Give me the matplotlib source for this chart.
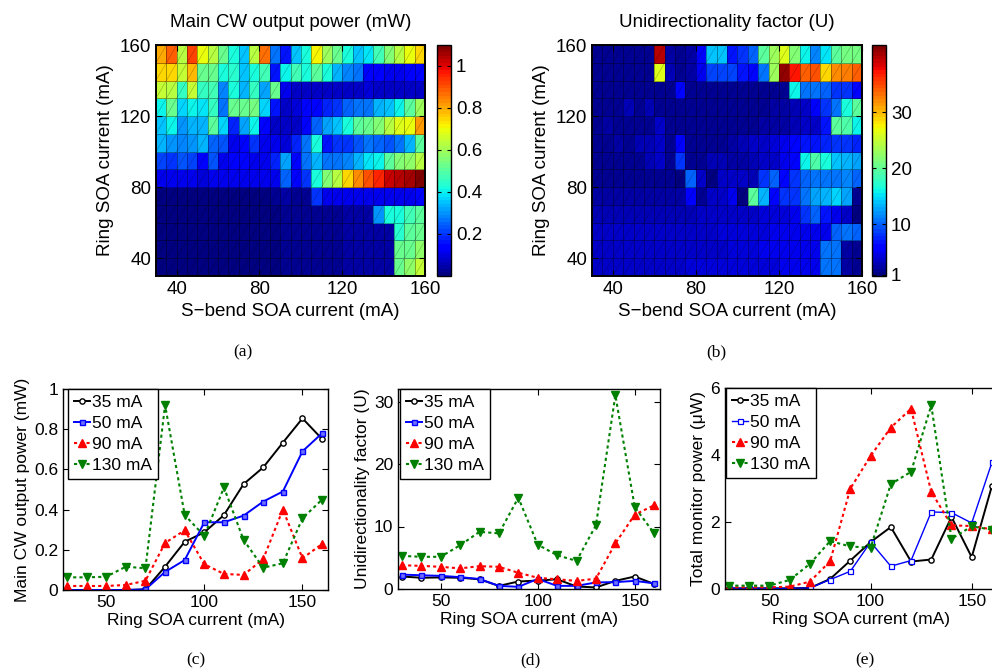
"""
Heatmaps of CW output power / unidirectionality and line cuts vs ring SOA current
"""
import matplotlib

matplotlib.use("Agg")
import matplotlib.pyplot as plt
import numpy as np
from matplotlib.collections import LineCollection
from matplotlib.ticker import FuncFormatter

plt.rcParams["font.family"] = ["Liberation Sans", "DejaVu Sans"]

# ---- heatmap data: rows from ring 150 mA (top) down to 30 mA, columns S-bend 30..155 mA
power_rows = [
    [0.80, 0.88, 0.63, 0.92, 0.70, 0.63, 0.52, 0.42, 0.36, 0.62, 0.86, 0.27, 0.17, 0.36, 0.42, 0.72, 0.60, 0.52, 0.42, 0.36, 0.38, 0.47, 0.55, 0.62, 0.69, 0.75],
    [0.75, 0.74, 0.65, 0.78, 0.53, 0.53, 0.42, 0.43, 0.35, 0.42, 0.48, 0.17, 0.40, 0.47, 0.42, 0.50, 0.42, 0.33, 0.28, 0.26, 0.13, 0.13, 0.12, 0.12, 0.13, 0.14],
    [0.64, 0.62, 0.45, 0.65, 0.46, 0.47, 0.28, 0.42, 0.34, 0.45, 0.32, 0.52, 0.12, 0.08, 0.07, 0.07, 0.07, 0.07, 0.07, 0.08, 0.10, 0.07, 0.07, 0.07, 0.07, 0.07],
    [0.40, 0.52, 0.37, 0.40, 0.38, 0.46, 0.27, 0.52, 0.52, 0.54, 0.37, 0.16, 0.08, 0.09, 0.14, 0.14, 0.18, 0.20, 0.25, 0.27, 0.26, 0.33, 0.36, 0.40, 0.50, 0.60],
    [0.36, 0.40, 0.30, 0.33, 0.33, 0.50, 0.37, 0.18, 0.32, 0.40, 0.14, 0.08, 0.07, 0.07, 0.13, 0.25, 0.31, 0.36, 0.42, 0.50, 0.53, 0.55, 0.62, 0.68, 0.70, 0.82],
    [0.33, 0.30, 0.28, 0.30, 0.33, 0.25, 0.24, 0.12, 0.15, 0.20, 0.12, 0.11, 0.10, 0.18, 0.27, 0.42, 0.16, 0.20, 0.20, 0.24, 0.26, 0.25, 0.23, 0.26, 0.33, 0.50],
    [0.22, 0.20, 0.23, 0.21, 0.13, 0.23, 0.12, 0.13, 0.14, 0.12, 0.11, 0.18, 0.32, 0.14, 0.27, 0.34, 0.26, 0.27, 0.28, 0.34, 0.38, 0.40, 0.50, 0.55, 0.58, 0.62],
    [0.12, 0.12, 0.12, 0.12, 0.10, 0.11, 0.11, 0.11, 0.11, 0.11, 0.11, 0.11, 0.25, 0.13, 0.20, 0.42, 0.55, 0.63, 0.74, 0.84, 0.91, 0.96, 1.02, 1.04, 1.06, 1.09],
    [0.01, 0.01, 0.01, 0.01, 0.01, 0.01, 0.01, 0.01, 0.01, 0.01, 0.01, 0.02, 0.04, 0.03, 0.03, 0.20, 0.12, 0.12, 0.12, 0.12, 0.12, 0.12, 0.12, 0.12, 0.12, 0.15],
    [0.01, 0.01, 0.01, 0.01, 0.01, 0.01, 0.01, 0.01, 0.01, 0.01, 0.01, 0.01, 0.02, 0.02, 0.02, 0.03, 0.03, 0.03, 0.04, 0.04, 0.05, 0.30, 0.42, 0.42, 0.47, 0.50],
    [0.01, 0.01, 0.01, 0.01, 0.01, 0.01, 0.01, 0.01, 0.01, 0.01, 0.01, 0.01, 0.02, 0.02, 0.02, 0.03, 0.03, 0.03, 0.04, 0.04, 0.04, 0.04, 0.04, 0.43, 0.50, 0.53],
    [0.01, 0.01, 0.01, 0.01, 0.01, 0.01, 0.01, 0.01, 0.01, 0.01, 0.01, 0.01, 0.02, 0.02, 0.02, 0.03, 0.03, 0.03, 0.04, 0.04, 0.04, 0.04, 0.04, 0.52, 0.53, 0.58],
    [0.01, 0.01, 0.01, 0.01, 0.01, 0.01, 0.01, 0.01, 0.01, 0.01, 0.01, 0.01, 0.02, 0.02, 0.02, 0.03, 0.03, 0.03, 0.04, 0.04, 0.04, 0.04, 0.04, 0.53, 0.58, 0.64],
]

unidir_rows = [
    [1.5, 1.8, 1.6, 1.5, 1.7, 1.6, 40.0, 2.5, 1.8, 2.2, 6.0, 14.0, 14.0, 7.0, 8.0, 10.0, 20.0, 23.0, 26.5, 21.5, 16.0, 11.5, 15.0, 19.5, 21.0, 21.0],
    [1.5, 1.5, 1.6, 1.5, 1.5, 1.6, 26.0, 3.0, 1.8, 2.2, 5.0, 9.0, 9.0, 9.0, 7.0, 6.0, 11.0, 23.0, 41.0, 37.0, 34.0, 34.5, 29.0, 32.0, 32.5, 34.0],
    [1.5, 1.6, 1.5, 1.5, 1.6, 1.5, 1.7, 1.8, 6.0, 1.8, 1.7, 1.8, 1.7, 1.6, 1.6, 1.7, 1.8, 1.8, 1.8, 16.0, 11.0, 11.0, 10.0, 8.5, 8.0, 6.0],
    [1.5, 1.6, 1.6, 3.0, 1.8, 3.0, 1.8, 1.6, 1.5, 1.6, 1.6, 1.7, 1.7, 1.7, 1.8, 1.9, 2.0, 2.2, 2.5, 3.0, 4.0, 5.5, 8.0, 11.0, 16.5, 20.0],
    [1.6, 2.5, 1.7, 1.6, 1.7, 1.8, 3.5, 1.7, 1.5, 1.6, 1.6, 1.7, 1.7, 1.8, 1.9, 2.0, 2.2, 2.5, 2.7, 3.0, 3.5, 4.0, 7.0, 20.0, 19.0, 16.0],
    [1.7, 1.8, 2.5, 1.8, 3.0, 3.0, 3.5, 2.0, 5.5, 1.8, 1.8, 2.0, 2.0, 2.5, 3.0, 3.5, 4.0, 4.5, 5.0, 6.0, 7.0, 7.0, 7.5, 8.0, 8.0, 7.5],
    [1.6, 1.7, 1.8, 1.7, 1.8, 3.0, 3.5, 1.9, 8.0, 1.8, 1.8, 3.0, 3.0, 2.5, 2.5, 3.0, 4.0, 4.0, 5.0, 6.0, 16.0, 19.0, 16.5, 14.0, 13.5, 13.0],
    [1.5, 1.5, 1.6, 1.6, 1.7, 1.7, 1.8, 1.5, 1.4, 10.0, 4.0, 1.0, 4.0, 4.0, 4.0, 3.0, 8.0, 10.0, 6.0, 8.0, 10.0, 11.0, 10.5, 11.0, 11.5, 10.0],
    [2.5, 2.5, 2.4, 2.5, 2.5, 2.6, 2.6, 2.5, 2.7, 5.5, 2.0, 4.0, 3.5, 5.0, 1.0, 20.0, 13.5, 6.0, 8.0, 8.0, 10.5, 13.0, 13.5, 14.5, 13.0, 2.0],
    [3.0, 3.0, 3.0, 3.0, 3.0, 3.0, 3.0, 3.2, 3.2, 3.2, 3.5, 3.5, 3.5, 4.0, 4.0, 4.0, 4.5, 4.5, 4.5, 5.0, 8.0, 10.0, 7.0, 5.0, 4.0, 1.2],
    [3.5, 3.5, 3.6, 3.6, 3.6, 3.7, 3.7, 3.8, 3.8, 3.8, 4.0, 4.0, 4.2, 4.5, 4.5, 4.5, 4.5, 4.8, 4.8, 5.0, 5.0, 5.0, 5.0, 10.0, 10.5, 10.0],
    [3.8, 3.8, 3.8, 3.9, 3.9, 4.0, 4.0, 4.0, 4.0, 4.0, 4.0, 4.0, 4.0, 4.5, 4.5, 4.5, 4.8, 4.8, 5.0, 5.0, 5.0, 5.0, 11.0, 11.0, 2.5, 1.5],
    [4.0, 4.0, 4.0, 4.0, 4.0, 4.0, 4.0, 4.0, 4.0, 4.2, 4.2, 4.2, 4.2, 4.5, 4.5, 4.5, 4.5, 4.5, 4.8, 5.0, 5.0, 5.0, 11.0, 11.0, 2.5, 1.5],
]

# ---- line cuts for fixed S-bend currents
ring_currents = [30, 40, 50, 60, 70, 80, 90, 100, 110, 120, 130, 140, 150, 160]
sbend_labels = ["35 mA", "50 mA", "90 mA", "130 mA"]

power_35 = [0, 0, 0, 0, 0.003, 0.116, 0.24, 0.287, 0.373, 0.527, 0.61, 0.733, 0.854, 0.751]
power_50 = [0, 0, 0, 0, 0.003, 0.09, 0.149, 0.337, 0.337, 0.37, 0.44, 0.49, 0.69, 0.78]
power_90 = [0.02, 0.02, 0.02, 0.025, 0.046, 0.234, 0.297, 0.128, 0.08, 0.075, 0.154, 0.40, 0.158, 0.229]
power_130 = [0.063, 0.063, 0.066, 0.116, 0.108, 0.92, 0.373, 0.269, 0.51, 0.249, 0.111, 0.133, 0.357, 0.45]

unidir_35 = [2.0, 1.8, 1.85, 1.8, 1.55, 0.5, 1.2, 1.35, 1.55, 0.4, 0.25, 1.3, 2.0, 0.8]
unidir_50 = [2.3, 2.2, 2.1, 1.9, 1.6, 0.5, 0.35, 1.6, 0.5, 0.5, 1.05, 1.1, 1.3, 0.9]
unidir_90 = [3.8, 3.7, 3.55, 3.3, 3.65, 3.55, 2.6, 1.8, 1.55, 1.3, 1.65, 7.3, 11.9, 13.4]
unidir_130 = [5.3, 5.15, 5.15, 7.0, 9.15, 8.9, 14.6, 7.1, 5.4, 4.5, 10.2, 31.0, 13.1, 8.9]

monitor_35 = [0.02, 0.02, 0.02, 0.02, 0.03, 0.3, 0.85, 1.4, 1.85, 0.82, 0.88, 2.15, 0.95, 3.08]
monitor_50 = [0.02, 0.02, 0.02, 0.02, 0.03, 0.28, 0.53, 1.4, 0.68, 0.85, 2.3, 2.28, 1.97, 3.78]
monitor_90 = [0.05, 0.05, 0.05, 0.07, 0.22, 0.83, 3.0, 3.97, 4.82, 5.38, 2.9, 1.9, 1.88, 1.78]
monitor_130 = [0.1, 0.1, 0.1, 0.27, 0.75, 1.43, 1.27, 1.23, 3.13, 3.5, 5.48, 1.5, 1.87, 1.77]

W, H = 992, 668
GREEN = (0, 0.5, 0)
DOTS = (0, (1.5, 1.5))
JET = plt.get_cmap("jet", 64)


def px_rect(left, top, right, bottom):
    # figure pixel box -> figure fraction rect
    return [left / W, 1 - bottom / H, (right - left) / W, (bottom - top) / H]


def style_axes(ax, size):
    ax.tick_params(direction="in", top=True, right=True, labelsize=size, length=4, width=0.8)


def show_heatmap(fig, rect, cbar_rect, rows, title, vmin, vmax, cticks):
    ax = fig.add_axes(rect)
    data = np.array(rows)[::-1]
    x_edges = np.arange(30, 161, 5)
    y_edges = np.arange(30, 161, 10)
    mesh = ax.pcolormesh(x_edges, y_edges, data, cmap=JET, vmin=vmin, vmax=vmax,
                         edgecolors=(0, 0, 0, 0.35), linewidth=0.4)
    # faceted triangle split seen in the exported figure
    segs = [[(x0, y0), (x1, y1)]
            for y0, y1 in zip(y_edges[:-1], y_edges[1:])
            for x0, x1 in zip(x_edges[:-1], x_edges[1:])]
    ax.add_collection(LineCollection(segs, colors=(0, 0, 0, 0.3), linewidths=0.4))
    ax.set_xlim(30, 160)
    ax.set_ylim(30, 160)
    ax.set_xticks([40, 80, 120, 160])
    ax.set_yticks([40, 80, 120, 160])
    style_axes(ax, 13.5)
    for s in ax.spines.values():
        s.set_linewidth(1.4)
    ax.set_xlabel("S\u2212bend SOA current (mA)", fontsize=13.5, labelpad=4)
    ax.set_ylabel("Ring SOA current (mA)", fontsize=13.5, labelpad=4)
    ax.set_title(title, fontsize=13.5, pad=13)
    cax = fig.add_axes(cbar_rect)
    cb = fig.colorbar(mesh, cax=cax)
    cb.set_ticks(cticks)
    cb.ax.yaxis.set_major_formatter(FuncFormatter(lambda v, p: f"{v:g}"))
    cax.tick_params(direction="in", left=True, right=True, labelsize=13.5, length=3, width=0.8)
    cb.outline.set_linewidth(1.0)
    return ax


def show_lines(fig, rect, series, ylabel, ylim, yticks, legend_x, open_blue=False):
    ax = fig.add_axes(rect)
    s35, s50, s90, s130 = series
    ax.plot(ring_currents, s35, "-o", color="k", lw=1.4, ms=3.8, mfc="white", mew=1.0,
            label=sbend_labels[0])
    if open_blue:
        ax.plot(ring_currents, s50, "-s", color="b", lw=1.0, ms=3.6, mfc="white", mew=0.9,
                label=sbend_labels[1])
    else:
        ax.plot(ring_currents, s50, "-s", color="b", lw=1.4, ms=3.6, mfc="#7070ff", mew=1.0,
                label=sbend_labels[1])
    ax.plot(ring_currents, s90, marker="^", ls=DOTS, color="r", lw=1.5, ms=5.5,
            label=sbend_labels[2])
    ax.plot(ring_currents, s130, marker="v", ls=DOTS, color=GREEN, lw=1.5, ms=5.5,
            label=sbend_labels[3])
    ax.set_xlim(28, 163)
    ax.set_ylim(*ylim)
    ax.set_xticks([50, 100, 150])
    ax.set_yticks(yticks)
    ax.yaxis.set_major_formatter(FuncFormatter(lambda v, p: f"{v:g}"))
    style_axes(ax, 12.5)
    for s in ax.spines.values():
        s.set_linewidth(1.0)
    ax.set_xlabel("Ring SOA current (mA)", fontsize=12.5, labelpad=2)
    ax.set_ylabel(ylabel, fontsize=12.5, labelpad=3)
    leg = ax.legend(loc="upper left", bbox_to_anchor=(legend_x, 1.0), borderaxespad=0,
                    fontsize=12.5, handlelength=0.9, handletextpad=0.15, labelspacing=0.33,
                    borderpad=0.35, fancybox=False, framealpha=1, edgecolor="k")
    leg.get_frame().set_linewidth(1.0)
    return ax


if __name__ == "__main__":
    fig = plt.figure(figsize=(W / 100, H / 100), dpi=100)

    show_heatmap(fig, px_rect(156, 45, 425, 276), px_rect(437, 45, 451, 276), power_rows,
                 "Main CW output power (mW)", 0.0, 1.1, [0.2, 0.4, 0.6, 0.8, 1.0])
    show_heatmap(fig, px_rect(592, 45, 862, 276), px_rect(872, 45, 886, 276), unidir_rows,
                 "Unidirectionality factor (U)", 0.8, 42.0, [1, 10, 20, 30])

    show_lines(fig, px_rect(63, 389, 328, 590), (power_35, power_50, power_90, power_130),
               "Main CW output power (mW)", (0, 1), [0, 0.2, 0.4, 0.6, 0.8, 1.0], 5 / 265)
    show_lines(fig, px_rect(398, 389, 660, 589), (unidir_35, unidir_50, unidir_90, unidir_130),
               "Unidirectionality factor (U)", (0, 32), [0, 10, 20, 30], 2 / 262)
    show_lines(fig, px_rect(725, 388, 998, 589), (monitor_35, monitor_50, monitor_90, monitor_130),
               "Total monitor power (\u03bcW)", (0, 6), [0, 2, 4, 6], 1 / 273, open_blue=True)

    for label, x, y in [("(a)", 243, 352), ("(b)", 716, 352), ("(c)", 196, 660),
                        ("(d)", 530, 660), ("(e)", 865, 660)]:
        fig.text(x / W, 1 - y / H, label, ha="center", va="center", fontsize=12.5,
                 family=["Liberation Serif", "DejaVu Serif"])

    plt.savefig("out.png", dpi=100)
